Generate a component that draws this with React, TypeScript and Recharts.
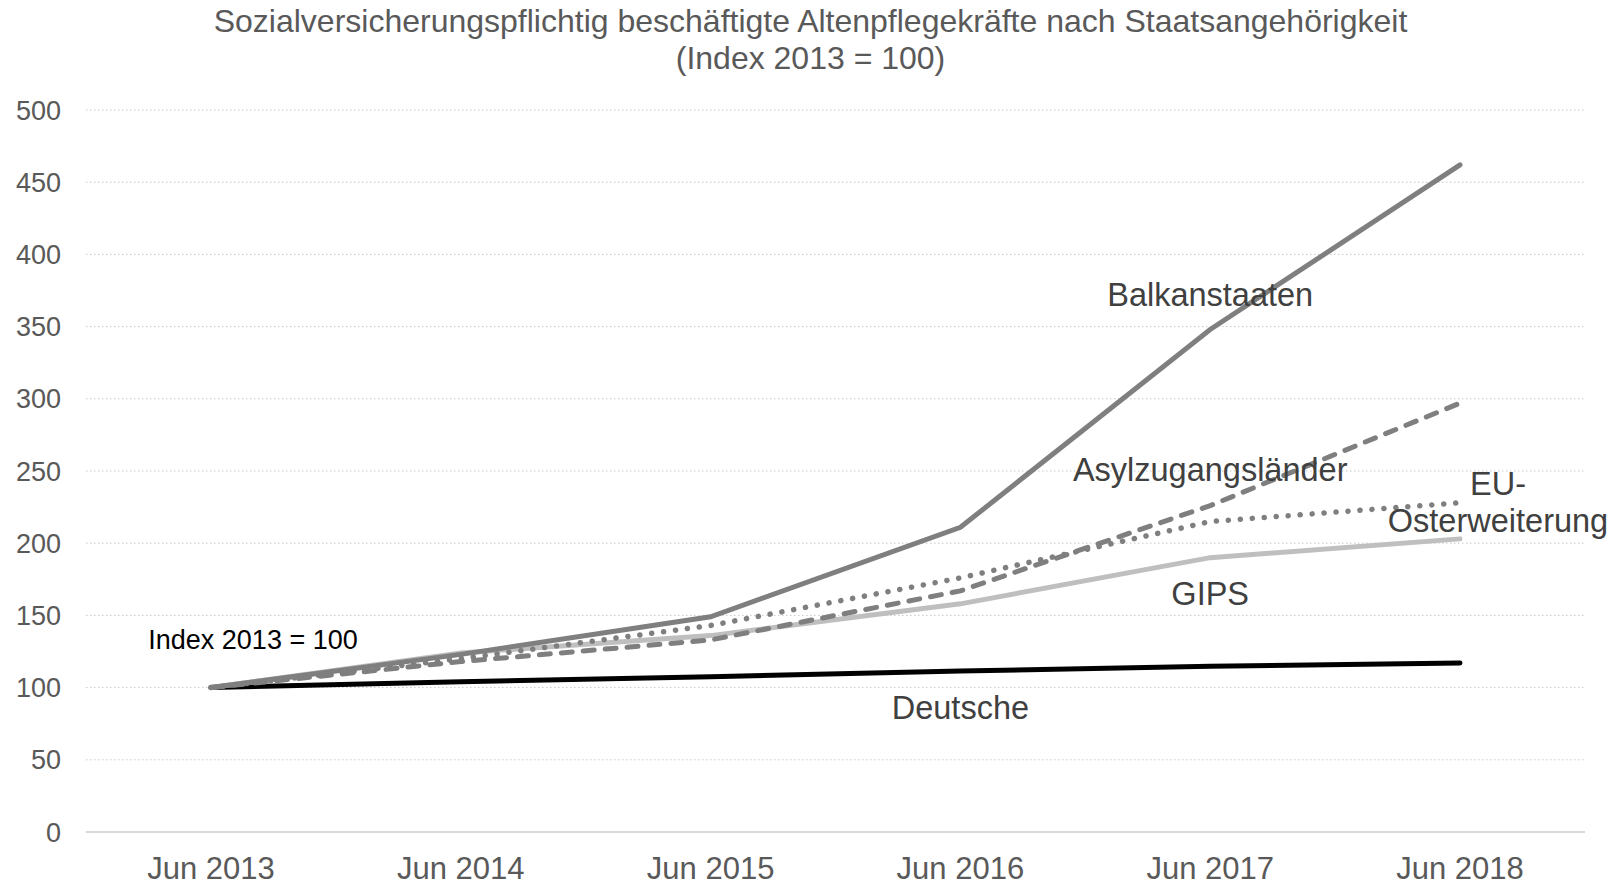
import { CartesianGrid, Line, LineChart, ReferenceDot, XAxis, YAxis } from 'recharts'

document.body.style.margin = '0'

const FONT = '"Liberation Sans", Arial, sans-serif'

const categories = ['Jun 2013', 'Jun 2014', 'Jun 2015', 'Jun 2016', 'Jun 2017', 'Jun 2018']
const balkan = [100, 123, 149, 211, 348, 462]
const asyl = [100, 118, 133, 167, 226, 297]
const euOst = [100, 120, 143, 176, 215, 228]
const gips = [100, 124, 136, 158, 190, 203]
const deutsche = [100, 104, 107.5, 111.5, 114.8, 117]
const yTicks = [0, 50, 100, 150, 200, 250, 300, 350, 400, 450, 500]

const data = categories.map((c, i) => ({
  cat: c,
  balkan: balkan[i],
  asyl: asyl[i],
  euOst: euOst[i],
  gips: gips[i],
  deutsche: deutsche[i],
}))

// text placed at a data point, optional pixel shift
const textAt =
  (lines: string[], opts: { dx?: number; size?: number; color?: string; lh?: number } = {}) =>
  (props: any) => {
    const vb = props.viewBox || {}
    const cx = vb.x + (vb.width || 0) / 2 + (opts.dx || 0)
    const cy = vb.y + (vb.height || 0) / 2
    const lh = opts.lh || 36
    const top = cy - ((lines.length - 1) * lh) / 2
    return (
      <text
        x={cx}
        y={top}
        textAnchor="middle"
        dominantBaseline="central"
        fontFamily={FONT}
        fontSize={opts.size || 32.5}
        fill={opts.color || '#404040'}
      >
        {lines.map((l, i) => (
          <tspan key={i} x={cx} y={top + i * lh}>
            {l}
          </tspan>
        ))}
      </text>
    )
  }

export default function App() {
  return (
    <div style={{ position: 'relative', width: 1621, height: 886, background: '#fff' }}>
      <div
        style={{
          position: 'absolute',
          top: 3,
          left: 0,
          width: 1621,
          textAlign: 'center',
          fontFamily: FONT,
          fontSize: 32,
          lineHeight: '37px',
          color: '#595959',
          zIndex: 1,
        }}
      >
        Sozialversicherungspflichtig beschäftigte Altenpflegekräfte nach Staatsangehörigkeit
        <br />
        (Index 2013 = 100)
      </div>
      <LineChart
        width={1621}
        height={886}
        data={data}
        margin={{ top: 110, right: 36, left: 0, bottom: 0 }}
        style={{ position: 'absolute', top: 0, left: 0 }}
      >
        <CartesianGrid vertical={false} stroke="#c8c8c8" strokeDasharray="1.5 2.5" />
        <XAxis
          dataKey="cat"
          height={54}
          padding={{ left: 125, right: 125 }}
          tickLine={false}
          axisLine={{ stroke: '#d9d9d9', strokeWidth: 2 }}
          tickMargin={19}
          tick={{ fill: '#595959', fontSize: 31, fontFamily: FONT }}
          interval={0}
        />
        <YAxis
          width={86}
          domain={[0, 500]}
          ticks={yTicks}
          tickLine={false}
          axisLine={false}
          tickMargin={19}
          tick={{ fill: '#595959', fontSize: 27, fontFamily: FONT }}
        />
        <Line
          dataKey="deutsche"
          stroke="#000"
          strokeWidth={5}
          dot={false}
          strokeLinecap="round"
          isAnimationActive={false}
        />
        <Line
          dataKey="gips"
          stroke="#bfbfbf"
          strokeWidth={5}
          dot={false}
          strokeLinecap="round"
          isAnimationActive={false}
        />
        <Line
          dataKey="euOst"
          stroke="#7f7f7f"
          strokeWidth={5.5}
          strokeDasharray="0.1 11.9"
          strokeLinecap="round"
          dot={false}
          isAnimationActive={false}
        />
        <Line
          dataKey="asyl"
          stroke="#7f7f7f"
          strokeWidth={5}
          strokeDasharray="11 11"
          strokeLinecap="round"
          dot={false}
          isAnimationActive={false}
        />
        <Line
          dataKey="balkan"
          stroke="#7f7f7f"
          strokeWidth={5}
          strokeLinecap="round"
          dot={false}
          isAnimationActive={false}
        />
        <ReferenceDot x="Jun 2017" y={372} r={0} fill="none" stroke="none" label={{ content: textAt(['Balkanstaaten']) }} />
        <ReferenceDot x="Jun 2017" y={251} r={0} fill="none" stroke="none" label={{ content: textAt(['Asylzugangsländer']) }} />
        <ReferenceDot x="Jun 2017" y={165} r={0} fill="none" stroke="none" label={{ content: textAt(['GIPS']) }} />
        <ReferenceDot x="Jun 2016" y={86} r={0} fill="none" stroke="none" label={{ content: textAt(['Deutsche']) }} />
        <ReferenceDot
          x="Jun 2018"
          y={228.5}
          r={0}
          fill="none"
          stroke="none"
          ifOverflow="visible"
          label={{ content: textAt(['EU-', 'Osterweiterung'], { dx: 38, lh: 37 }) }}
        />
        <ReferenceDot
          x="Jun 2013"
          y={133}
          r={0}
          fill="none"
          stroke="none"
          label={{ content: textAt(['Index 2013 = 100'], { dx: 42, size: 27, color: '#000' }) }}
        />
      </LineChart>
    </div>
  )
}
